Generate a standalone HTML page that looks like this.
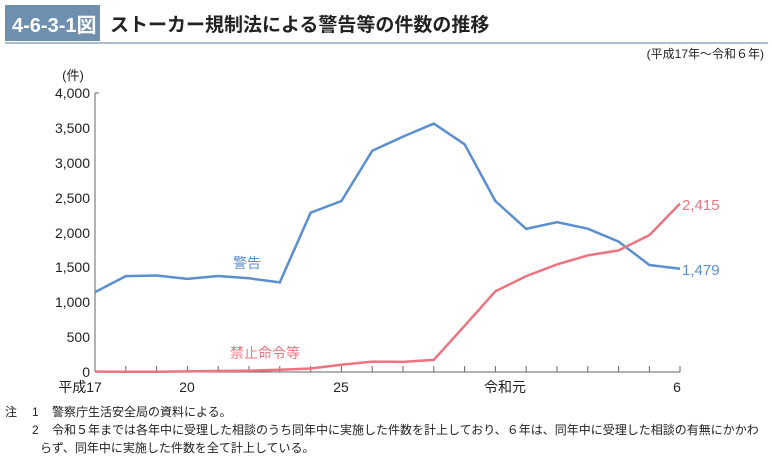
<!DOCTYPE html>
<html><head><meta charset="utf-8"><style>
body{margin:0;background:#fff;width:772px;height:458px;overflow:hidden;font-family:"Liberation Sans","Noto Sans CJK JP",sans-serif;}
</style></head><body>
<svg width="772" height="458" xmlns="http://www.w3.org/2000/svg" style="position:absolute;left:0;top:0;font-family:'Liberation Sans','Noto Sans CJK JP',sans-serif">
<rect x="5" y="5" width="95" height="36" fill="#6f8fae"/>
<text x="12" y="32" font-size="20" font-weight="bold" fill="#fff">4-6-3-1図</text>
<text x="110" y="31" font-size="19" font-weight="bold" fill="#222">ストーカー規制法による警告等の件数の推移</text>
<line x1="5" y1="43" x2="768" y2="43" stroke="#8fa9c4" stroke-width="1.5"/>
<text x="764" y="58" font-size="12" fill="#222" text-anchor="end">(平成17年～令和６年)</text>
<text x="73" y="80" font-size="13" fill="#222" text-anchor="middle">(件)</text>
<g font-size="14" fill="#222" text-anchor="end">
<text x="90" y="98">4,000</text><text x="90" y="133">3,500</text><text x="90" y="168">3,000</text>
<text x="90" y="203">2,500</text><text x="90" y="238">2,000</text><text x="90" y="272">1,500</text>
<text x="90" y="307">1,000</text><text x="90" y="342">500</text><text x="90" y="377">0</text>
</g>
<g stroke="#666" stroke-width="1">
<line x1="95" y1="93" x2="95" y2="372"/>
<line x1="95" y1="93" x2="99" y2="93"/>
<line x1="95" y1="372" x2="680" y2="372"/>
<path d="M95,372v-6M125.8,372v-6M156.6,372v-6M187.4,372v-6M218.2,372v-6M249,372v-6M279.8,372v-6M310.6,372v-6M341.4,372v-6M372.2,372v-6M403,372v-6M433.8,372v-6M464.6,372v-6M495.4,372v-6M526.2,372v-6M557,372v-6M587.8,372v-6M618.6,372v-6M649.4,372v-6M680,372v-6"/>
</g>
<g font-size="14" fill="#222" text-anchor="middle">
<text x="80" y="392">平成17</text><text x="187" y="392">20</text><text x="341" y="392">25</text>
<text x="505" y="392">令和元</text><text x="677" y="392">6</text>
</g>
<polyline fill="none" stroke="#5b8fd0" stroke-width="2.5" points="95,292.1 125.8,276.1 156.6,275.5 187.4,278.9 218.2,276 249,278.3 279.8,282.4 310.6,212.7 341.4,201 372.2,150.8 403,136.6 433.8,123.6 464.6,144.3 495.4,201.1 526.2,228.9 557,222.2 587.8,228.7 618.6,241.6 649.4,265 680,268.8"/>
<polyline fill="none" stroke="#ec7480" stroke-width="2.5" points="95,371.6 125.8,371.8 156.6,371.8 187.4,371.4 218.2,371 249,370.6 279.8,369.8 310.6,368.5 341.4,364.8 372.2,361.6 403,361.9 433.8,359.9 464.6,325.8 495.4,291.3 526.2,276.1 557,264.4 587.8,255.4 618.6,250.4 649.4,235.1 680,203.6"/>
<text x="247" y="268" font-size="14" fill="#5b8fd0" text-anchor="middle">警告</text>
<text x="265" y="358" font-size="14" fill="#ec7480" text-anchor="middle">禁止命令等</text>
<text x="682" y="210" font-size="15" fill="#ec7480">2,415</text>
<text x="682" y="275" font-size="15" fill="#5b8fd0">1,479</text>
<g font-size="12" fill="#222">
<text x="5" y="416">注</text><text x="32" y="416">1</text><text x="52" y="416">警察庁生活安全局の資料による。</text>
<text x="32" y="434">2</text><text x="52" y="434">令和５年までは各年中に受理した相談のうち同年中に実施した件数を計上しており、６年は、同年中に受理した相談の有無にかかわ</text>
<text x="40" y="452">らず、同年中に実施した件数を全て計上している。</text>
</g>
</svg>
</body></html>
